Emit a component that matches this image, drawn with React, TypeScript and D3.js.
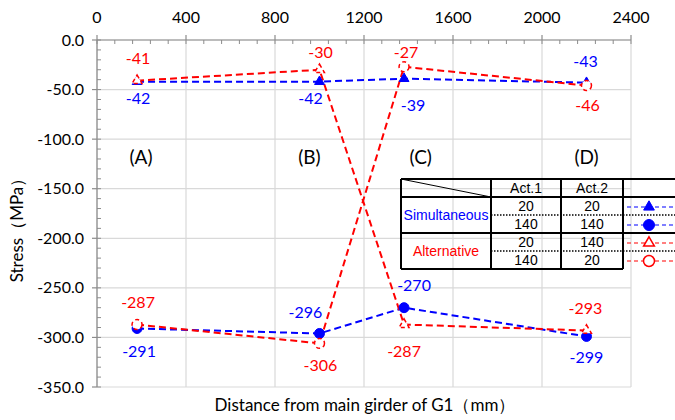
import React from 'react';
import * as d3 from 'd3';

// ---- data ----
const distances = [180, 1000, 1380, 2200];
const simul20 = [-42, -42, -39, -43];
const simul140 = [-291, -296, -270, -299];
const alt20to140 = [-41, -30, -287, -293];
const alt140to20 = [-287, -306, -27, -46];
const xTicks = [0, 400, 800, 1200, 1600, 2000, 2400];
const yTicks = [0, -50, -100, -150, -200, -250, -300, -350];
const sectionLabels = ['(A)', '(B)', '(C)', '(D)'];
const sectionAt = [198, 955, 1455, 2200];
const tableGroups = ['Simultaneous', 'Alternative'];
const act1 = [20, 140, 20, 140];
const act2 = [20, 140, 140, 20];

// ---- styling ----
const BLUE = '#0000ff';
const RED = '#ff0000';
const W = 675;
const H = 420;
const FONT = 'Lato, "Open Sans", sans-serif';
const TFONT = '"Liberation Sans", Arial, sans-serif';

type Series = {
  values: number[];
  color: string;
  shape: 'tri' | 'circ';
  filled: boolean;
  offsets: [number, number][];
};

const series: Series[] = [
  { values: simul20, color: BLUE, shape: 'tri', filled: true, offsets: [[1, 17], [-9, 17], [9, 27], [-1, -21]] },
  { values: simul140, color: BLUE, shape: 'circ', filled: true, offsets: [[2, 23], [-14, -21], [10, -22], [0, 21]] },
  { values: alt20to140, color: RED, shape: 'tri', filled: false, offsets: [[1, -22], [1, -17], [0, 27], [-1, -22]] },
  { values: alt140to20, color: RED, shape: 'circ', filled: false, offsets: [[1, -22], [1, 22], [2, -14], [1, 20]] },
];

const x = d3.scaleLinear().domain([0, 2400]).range([97, 631]);
const y = d3.scaleLinear().domain([0, -350]).range([40, 387]);

const triPath = (size: number) => d3.symbol().type(d3.symbolTriangle).size(size)() as string;
const circPath = (size: number) => d3.symbol().type(d3.symbolCircle).size(size)() as string;

function Marker({ s, cx, cy, big }: { s: Series; cx: number; cy: number; big?: boolean }) {
  const size = s.shape === 'tri' ? (big ? 50 : 42) : (big ? 95 : 78);
  const d = s.shape === 'tri' ? triPath(size) : circPath(size);
  return (
    <path
      d={d}
      transform={`translate(${cx},${cy})`}
      fill={s.filled ? s.color : '#ffffff'}
      stroke={s.color}
      strokeWidth={s.filled ? 1 : 1.5}
      strokeDasharray={!s.filled && !big ? '4,3' : undefined}
    />
  );
}

export default function App() {
  const line = d3
    .line<number>()
    .x((_, i) => x(distances[i]))
    .y((v) => y(v));

  const minorY = d3.range(0, -351, -10);
  const minorX = d3.range(0, 2401, 80);

  // table geometry
  const tL = 401, tC1 = 491, tC2 = 561, tC3 = 623, tR = 676;
  const rows = [179, 197, 215, 233, 251, 269];
  const act1X = (tC1 + tC2) / 2;
  const act2X = (tC2 + tC3) / 2;
  const legX = 649;

  return (
    <svg
      width={W}
      height={H}
      viewBox={`0 0 ${W} ${H}`}
      style={{ position: 'absolute', left: 0, top: 0, background: '#fff' }}
    >
      <rect x={0} y={0} width={W} height={H} fill="#fff" />

      {/* gridlines */}
      {yTicks.map((t) => (
        <line key={'gy' + t} x1={x(0)} x2={x(2400)} y1={y(t)} y2={y(t)} stroke="#d9d9d9" strokeWidth={1.2} />
      ))}
      {xTicks.map((t) => (
        <line key={'gx' + t} x1={x(t)} x2={x(t)} y1={y(0)} y2={y(-350)} stroke="#d9d9d9" strokeWidth={1.2} />
      ))}

      {/* axes */}
      <line x1={x(0)} x2={x(2400)} y1={y(0)} y2={y(0)} stroke="#8c8c8c" strokeWidth={1.2} />
      <line x1={x(0)} x2={x(0)} y1={y(0)} y2={y(-350)} stroke="#8c8c8c" strokeWidth={1.2} />
      {minorY.map((t) => (
        <line key={'my' + t} x1={x(0)} x2={x(0) + 4} y1={y(t)} y2={y(t)} stroke="#8c8c8c" strokeWidth={1} />
      ))}
      {yTicks.map((t) => (
        <line key={'ty' + t} x1={x(0) - 5} x2={x(0)} y1={y(t)} y2={y(t)} stroke="#8c8c8c" strokeWidth={1.2} />
      ))}
      {minorX.map((t) => (
        <line key={'mx' + t} x1={x(t)} x2={x(t)} y1={y(0)} y2={y(0) + 4} stroke="#8c8c8c" strokeWidth={1} />
      ))}
      {xTicks.map((t) => (
        <line key={'tx' + t} x1={x(t)} x2={x(t)} y1={y(0) - 5} y2={y(0)} stroke="#8c8c8c" strokeWidth={1.2} />
      ))}

      {/* tick labels */}
      {xTicks.map((t) => (
        <text key={'lx' + t} x={x(t)} y={23} textAnchor="middle" fontFamily={FONT} fontSize={16} fill="#000">
          {t}
        </text>
      ))}
      {yTicks.map((t) => (
        <text key={'ly' + t} x={84} y={y(t) + 5.5} textAnchor="end" fontFamily={FONT} fontSize={16} fill="#000">
          {t.toFixed(1)}
        </text>
      ))}

      {/* axis titles */}
      <text x={365} y={411} textAnchor="middle" fontFamily={FONT} fontSize={17} fill="#000">
        Distance from main girder of G1（mm）
      </text>
      <text
        transform={`translate(23,226) rotate(-90)`}
        textAnchor="middle"
        fontFamily={FONT}
        fontSize={17}
        fill="#000"
      >
        Stress（MPa）
      </text>

      {/* section labels */}
      {sectionLabels.map((s, i) => (
        <text key={s} x={x(sectionAt[i])} y={164} textAnchor="middle" fontFamily={FONT} fontSize={19} fill="#000">
          {s}
        </text>
      ))}

      {/* series lines */}
      {series.map((s, si) => (
        <path key={'l' + si} d={line(s.values) as string} fill="none" stroke={s.color} strokeWidth={2} strokeDasharray="7,4" />
      ))}
      {/* markers */}
      {series.map((s, si) =>
        s.values.map((v, i) => <Marker key={'m' + si + '-' + i} s={s} cx={x(distances[i])} cy={y(v)} />)
      )}
      {/* data labels */}
      {series.map((s, si) =>
        s.values.map((v, i) => (
          <text
            key={'t' + si + '-' + i}
            x={x(distances[i]) + s.offsets[i][0]}
            y={y(v) + s.offsets[i][1] + 5.5}
            textAnchor="middle"
            fontFamily={FONT}
            fontSize={16}
            fill={s.color}
          >
            {v}
          </text>
        ))
      )}

      {/* table */}
      <g fontFamily={TFONT} fontSize={14}>
        <line x1={tL} x2={tR} y1={rows[0]} y2={rows[0]} stroke="#000" strokeWidth={2} />
        <line x1={tL} x2={tR} y1={rows[1]} y2={rows[1]} stroke="#000" strokeWidth={2} />
        <line x1={tL} x2={tR} y1={rows[3]} y2={rows[3]} stroke="#000" strokeWidth={2} />
        <line x1={tL} x2={tC3} y1={rows[5]} y2={rows[5]} stroke="#000" strokeWidth={2} />
        <line x1={tC1} x2={tR} y1={rows[2]} y2={rows[2]} stroke="#000" strokeWidth={1.5} strokeDasharray="1.5,1.5" />
        <line x1={tC1} x2={tR} y1={rows[4]} y2={rows[4]} stroke="#000" strokeWidth={1.5} strokeDasharray="1.5,1.5" />
        {[tL, tC1, tC2, tC3].map((cx) => (
          <line key={'c' + cx} x1={cx} x2={cx} y1={rows[0]} y2={rows[5]} stroke="#000" strokeWidth={2} />
        ))}
        <line x1={tL} x2={tC1} y1={rows[0]} y2={rows[1]} stroke="#000" strokeWidth={1} />
        <text x={act1X} y={rows[0] + 14} textAnchor="middle" fill="#000">Act.1</text>
        <text x={act2X} y={rows[0] + 14} textAnchor="middle" fill="#000">Act.2</text>
        {act1.map((v, i) => (
          <text key={'a1' + i} x={act1X} y={rows[i + 1] + 14} textAnchor="middle" fill="#000">{v}</text>
        ))}
        {act2.map((v, i) => (
          <text key={'a2' + i} x={act2X} y={rows[i + 1] + 14} textAnchor="middle" fill="#000">{v}</text>
        ))}
        {tableGroups.map((g, gi) => (
          <text
            key={g}
            x={(tL + tC1) / 2}
            y={rows[1 + gi * 2 + 1] + 5}
            textAnchor="middle"
            fill={gi === 0 ? BLUE : RED}
          >
            {g}
          </text>
        ))}
        {series.map((s, si) => {
          const cy = (rows[si + 1] + rows[si + 2]) / 2 + 1;
          return (
            <g key={'lg' + si}>
              <line x1={tC3 + 4} x2={tR} y1={cy} y2={cy} stroke={s.color} strokeWidth={1.2} strokeDasharray="4,3" />
              <Marker s={s} cx={legX} cy={cy} big />
            </g>
          );
        })}
      </g>
    </svg>
  );
}
